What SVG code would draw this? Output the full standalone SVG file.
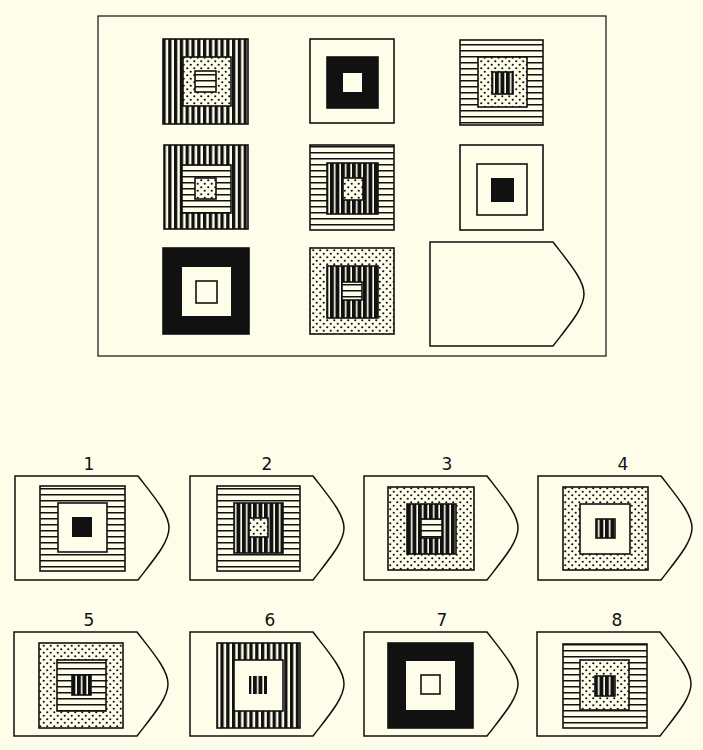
<svg xmlns="http://www.w3.org/2000/svg" width="703" height="750" viewBox="0 0 703 750">
<defs>
<pattern id="vs" patternUnits="userSpaceOnUse" width="5.8" height="10"><rect width="5.8" height="10" fill="#fdfdea"/><rect width="3.3" height="10" fill="#111"/></pattern>
<pattern id="vd" patternUnits="userSpaceOnUse" width="5.5" height="10"><rect width="5.5" height="10" fill="#fdfdea"/><rect width="3.9" height="10" fill="#111"/></pattern>
<pattern id="hl" patternUnits="userSpaceOnUse" width="10" height="6"><rect width="10" height="6" fill="#fdfdea"/><rect y="2" width="10" height="1.5" fill="#111"/></pattern>
<pattern id="dt" patternUnits="userSpaceOnUse" width="7" height="7"><rect width="7" height="7" fill="#fdfdea"/><circle cx="1.75" cy="1.75" r="1.1" fill="#111"/><circle cx="5.25" cy="5.25" r="1.1" fill="#111"/></pattern>
<path id="pent" d="M0,0 H123 C140,22 154,38 154,52 C154,66 140,82 123,104 H0 Z"/>
<style>
.sq{stroke:#111;stroke-width:1.6}
.w{fill:#fdfdea}
.b{fill:#111}
.v{fill:url(#vs)}
.vd{fill:url(#vd)}
.h{fill:url(#hl)}
.d{fill:url(#dt)}
.pt{fill:#fdfdea;stroke:#111;stroke-width:1.5}
.lb{font-family:"DejaVu Sans","Liberation Sans",sans-serif;font-size:17px;fill:#111;text-anchor:middle}
</style>
</defs>
<rect width="703" height="750" fill="#fdfdea"/>
<g id="matrix">
<rect x="98" y="16" width="508" height="340" fill="none" stroke="#222" stroke-width="1.3"/>
<g id="m1"><rect class="sq v" x="163" y="39" width="85" height="85"/><rect class="sq d" x="183" y="57" width="48" height="49"/><rect class="sq h" x="195" y="71" width="21" height="21"/></g>
<g id="m2"><rect class="sq w" x="310" y="39" width="84" height="84"/><rect class="sq b" x="327" y="57" width="51" height="51"/><rect class="w" x="343" y="73" width="19" height="19"/></g>
<g id="m3"><rect class="sq h" x="460" y="40" width="83" height="85"/><rect class="sq d" x="478" y="57" width="49" height="50"/><rect class="sq vd" x="492" y="72" width="21" height="22"/></g>
<g id="m4"><rect class="sq v" x="164" y="145" width="84" height="84"/><rect class="sq h" x="182" y="165" width="49" height="48"/><rect class="sq d" x="195" y="178" width="21" height="21"/></g>
<g id="m5"><rect class="sq h" x="310" y="145" width="84" height="85"/><rect class="sq vd" x="327" y="163" width="51" height="51"/><rect class="sq d" x="343" y="178" width="20" height="22"/></g>
<g id="m6"><rect class="sq w" x="460" y="145" width="83" height="85"/><rect class="sq w" x="477" y="164" width="50" height="51"/><rect class="b" x="491" y="178" width="23" height="24"/></g>
<g id="m7"><rect class="sq b" x="163" y="248" width="86" height="86"/><rect class="w" x="182" y="267" width="49" height="49"/><rect class="sq w" x="196" y="281" width="21" height="22"/></g>
<g id="m8"><rect class="sq d" x="310" y="248" width="84" height="86"/><rect class="sq vd" x="327" y="266" width="51" height="52"/><rect class="sq h" x="342" y="282" width="20" height="18"/></g>
<g id="slot"><use href="#pent" class="pt" transform="translate(430,242)"/></g>
</g>
<g id="opt1"><text class="lb" x="89" y="470">1</text><use href="#pent" class="pt" transform="translate(15,476)"/><rect class="sq h" x="40" y="486" width="85" height="85"/><rect class="sq w" x="58" y="503" width="49" height="49"/><rect class="b" x="72" y="517" width="20" height="20"/></g>
<g id="opt2"><text class="lb" x="267" y="470">2</text><use href="#pent" class="pt" transform="translate(190,476)"/><rect class="sq h" x="217" y="486" width="83" height="85"/><rect class="sq vd" x="234" y="503" width="49" height="50"/><rect class="sq d" x="249" y="518" width="19" height="19"/></g>
<g id="opt3"><text class="lb" x="447" y="470">3</text><use href="#pent" class="pt" transform="translate(364,476)"/><rect class="sq d" x="388" y="487" width="86" height="83"/><rect class="sq vd" x="407" y="504" width="49" height="50"/><rect class="sq h" x="421" y="519" width="21" height="19"/></g>
<g id="opt4"><text class="lb" x="623" y="470">4</text><use href="#pent" class="pt" transform="translate(538,476)"/><rect class="sq d" x="563" y="487" width="85" height="83"/><rect class="sq w" x="580" y="504" width="50" height="50"/><rect class="sq vd" x="596" y="519" width="19" height="19"/></g>
<g id="opt5"><text class="lb" x="89" y="626">5</text><use href="#pent" class="pt" transform="translate(14,632)"/><rect class="sq d" x="39" y="643" width="84" height="85"/><rect class="sq h" x="57" y="660" width="49" height="51"/><rect class="sq vd" x="72" y="675" width="19" height="20"/></g>
<g id="opt6"><text class="lb" x="270" y="626">6</text><use href="#pent" class="pt" transform="translate(190,632)"/><rect class="sq v" x="217" y="643" width="83" height="85"/><rect class="sq w" x="234" y="660" width="49" height="51"/><rect class="vd" x="249" y="676" width="18" height="18"/></g>
<g id="opt7"><text class="lb" x="442" y="626">7</text><use href="#pent" class="pt" transform="translate(364,632)"/><rect class="sq b" x="388" y="643" width="85" height="85"/><rect class="w" x="406" y="661" width="49" height="49"/><rect class="sq w" x="421" y="675" width="19" height="19"/></g>
<g id="opt8"><text class="lb" x="617" y="626">8</text><use href="#pent" class="pt" transform="translate(537,632)"/><rect class="sq h" x="563" y="644" width="84" height="84"/><rect class="sq d" x="580" y="660" width="49" height="50"/><rect class="sq vd" x="595" y="676" width="20" height="20"/></g>
</svg>
